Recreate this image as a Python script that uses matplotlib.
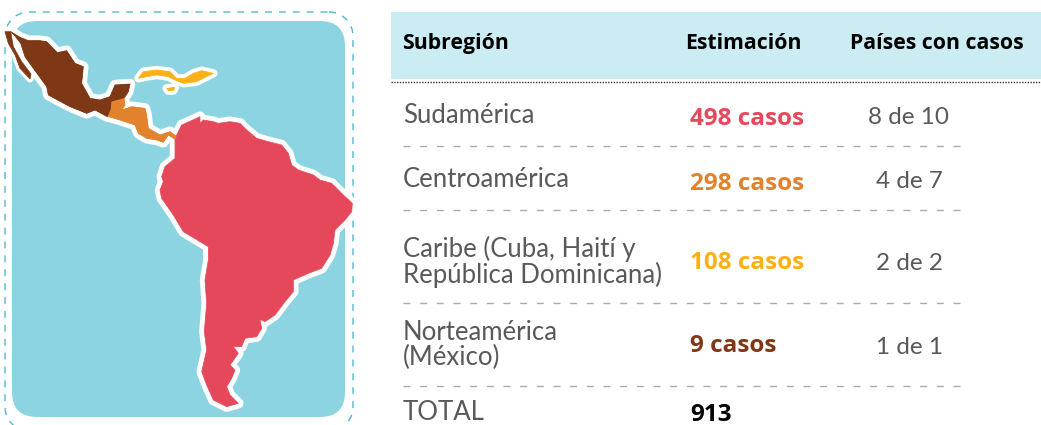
import numpy as np
import matplotlib
matplotlib.use("Agg")
import matplotlib.pyplot as plt
from matplotlib.patches import FancyBboxPatch, Polygon, Rectangle

subregions = ["Sudamérica", "Centroamérica", "Caribe (Cuba, Haití y\nRepública Dominicana)", "Norteamérica\n(México)", "TOTAL"]
estimates = ["498 casos", "298 casos", "108 casos", "9 casos", "913"]
countries = ["8 de 10", "4 de 7", "2 de 2", "1 de 1", ""]
headers = ["Subregión", "Estimación", "Países con casos"]

row_colors = ["#E5485A", "#E3822C", "#FDB015", "#7E3816", "#000000"]
row_y = [115, 179, 262, 345, 412]
est_y = [119, 184, 263, 346, 415]
sep_y = [146, 210, 303, 386]

mexico = [(32, 95), (60, 112), (85, 122), (120, 122), (140, 125), (172, 158), (200, 152), (225, 190),
          (250, 200), (245, 250), (270, 295), (300, 300), (330, 290), (345, 255), (390, 252), (385, 275), (372, 295),
          (335, 305), (332, 330), (322, 350), (285, 330), (260, 340), (210, 320), (145, 285), (140, 260), (100, 205),
          (75, 170), (62, 130), (45, 108)]
baja = [(15, 95), (32, 95), (40, 140), (65, 185), (93, 222), (90, 237), (60, 205), (45, 165), (25, 130)]
central = [(335, 305), (372, 295), (375, 315), (365, 330), (395, 320), (435, 325), (440, 345), (445, 385), (480, 405),
           (510, 395), (530, 410), (525, 418), (505, 405), (490, 427), (470, 420), (440, 415), (415, 400), (405, 375),
           (360, 360), (325, 350), (332, 330)]
cuba = [(415, 235), (430, 215), (470, 210), (510, 215), (530, 235), (555, 235), (580, 220), (605, 212), (640, 220),
        (610, 235), (590, 245), (550, 250), (525, 240), (505, 230), (470, 225), (440, 230)]
jamaica = [(500, 265), (525, 262), (520, 272), (505, 272)]
south_top = [(80, 105), (95, 75), (140, 55), (150, 50), (150, 70), (160, 60), (190, 65), (205, 70), (240, 65),
             (270, 70), (290, 90), (320, 115), (355, 125), (395, 135), (415, 160), (425, 195), (445, 210), (490, 225),
             (510, 240), (545, 250), (580, 285), (607, 310), (605, 335), (585, 360), (555, 390), (550, 430),
             (540, 465), (515, 505), (475, 520)]
south_bottom = [(430, 60), (430, 95), (405, 125), (375, 165), (345, 185), (330, 178), (335, 205), (320, 230),
                (285, 235), (275, 260), (250, 260), (265, 280), (240, 315), (255, 330), (245, 355), (230, 380),
                (240, 405), (265, 430), (230, 440), (190, 420), (170, 375), (155, 335), (170, 270), (163, 215),
                (170, 130), (165, 60), (175, 0)]
south_west = [(175, 480), (175, 440), (150, 425), (100, 395), (70, 345), (35, 295), (30, 270), (40, 245), (35, 230),
              (45, 200), (75, 175), (75, 120)]


def crop(points, x0=0, y0=0):
    return [(x0 + x / 3, y0 + y / 3) for x, y in points]


def land(ax, points, color, edge=7.5):
    ax.add_patch(Polygon(points, closed=True, fc="white", ec="white", lw=edge, joinstyle="round", zorder=3))
    ax.add_patch(Polygon(points, closed=True, fc=color, ec=color, lw=0.5, joinstyle="round", zorder=4))


def rounded_outline(x0, y0, x1, y1, r):
    # the card's dashed border, walked round corner by corner
    xs, ys = [], []
    corners = [(x1 - r, y0 + r, -90), (x1 - r, y1 - r, 0), (x0 + r, y1 - r, 90), (x0 + r, y0 + r, 180)]
    for cx, cy, start in corners:
        t = np.radians(np.linspace(start, start + 90, 12))
        xs += list(cx + r * np.cos(t))
        ys += list(cy + r * np.sin(t))
    return xs + xs[:1], ys + ys[:1]


fig = plt.figure(figsize=(10.41, 4.25), dpi=100)
ax = fig.add_axes([0, 0, 1, 1])
ax.set_xlim(0, 1041)
ax.set_ylim(425, 0)
ax.axis("off")

# map card
card_x, card_y = rounded_outline(5, 12, 353, 431, 24)
ax.plot(card_x, card_y, color="#4FB9D2", lw=1, ls=(0, (5, 5)), zorder=1)
ax.add_patch(FancyBboxPatch((12, 21), 333, 396, boxstyle="round,pad=0,rounding_size=25", fc="#8DD4E2",
                            ec="none", zorder=2))

south = crop(south_top, 150, 100) + crop(south_bottom, 150, 260) + crop(south_west, 150, 100)
land(ax, crop(mexico), "#7E3816")
land(ax, crop(baja), "#7E3816", edge=5)
land(ax, crop(central), "#E3822C")
land(ax, crop(cuba), "#FDB015", edge=6)
land(ax, crop(jamaica), "#FDB015", edge=6)
land(ax, south, "#E5485A")
ax.add_patch(Polygon(crop(mexico), closed=True, fc="#7E3816", ec="none", zorder=4))
ax.add_patch(Polygon(crop(central), closed=True, fc="#E3822C", ec="none", zorder=4))

# table
ax.add_patch(Rectangle((391, 12), 650, 67, fc="#CBECF3", ec="none"))
ax.plot([391, 1041], [81.5, 81.5], color="#333333", lw=1, ls=(0, (1, 1)))
for text, x in zip(headers, [402, 685, 850]):
    ax.text(x, 43, text, fontsize=15.3, fontweight="bold", family="Open Sans", color="black", va="center", ha="left")
for y in sep_y:
    ax.plot([403, 960], [y, y], color="#AAAAAA", lw=1, ls=(0, (5, 7)))

for i, name in enumerate(subregions):
    ax.text(403, row_y[i], name, fontsize=18.5, family="Lato", color="#58595B", va="center", ha="left", linespacing=1.03)
    ax.text(690, est_y[i], estimates[i], fontsize=17.5, fontweight="bold", family="Open Sans", color=row_colors[i],
            va="center", ha="left")
    if countries[i]:
        ax.text(909, row_y[i] + 2, countries[i], fontsize=17.5, family="Lato", color="#58595B", va="center", ha="center")

fig.savefig("out.png", dpi=100)
